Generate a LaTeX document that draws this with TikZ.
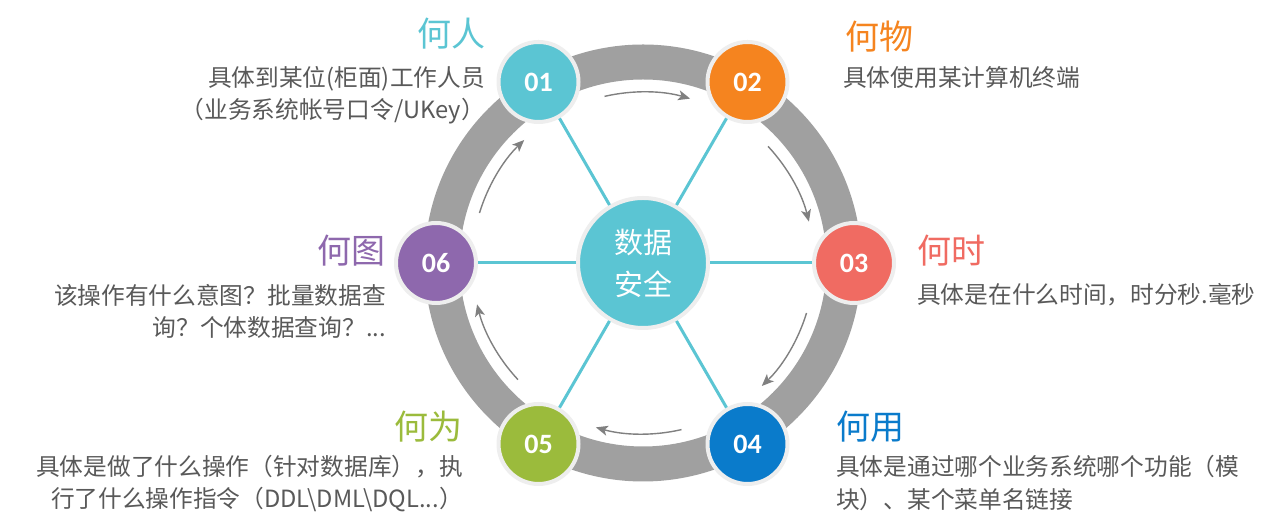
\documentclass[tikz,border=0pt]{standalone}
\usepackage{fontspec}
\setmainfont{Noto Sans CJK SC}
\newfontfamily\numfont{Carlito}
\usetikzlibrary{arrows.meta,positioning}
\definecolor{cteal}{RGB}{91,197,211}
\definecolor{corange}{RGB}{245,132,31}
\definecolor{csalmon}{RGB}{240,107,98}
\definecolor{cblue}{RGB}{10,123,203}
\definecolor{cgreen}{RGB}{155,187,60}
\definecolor{cpurple}{RGB}{142,104,173}
\definecolor{ringgray}{RGB}{160,160,160}
\definecolor{rimgray}{RGB}{238,238,238}
\definecolor{turngray}{RGB}{128,128,128}
\definecolor{descgray}{RGB}{89,89,89}

\begin{document}
\begin{tikzpicture}[
    x=1pt,y=1pt,
    ring/.style={draw=ringgray,line width=35pt},
    numball/.style={circle,draw=rimgray,line width=4pt,minimum size=80pt,inner sep=0pt,
                    text=white,font=\numfont\bfseries\fontsize{28}{28}\selectfont},
    hubball/.style={circle,draw=rimgray,line width=4pt,fill=cteal,minimum size=130pt,
                    inner sep=0pt,text=white,align=center,font=\fontsize{29}{42}\selectfont},
    spoke/.style={draw=cteal,line width=3pt},
    turn/.style={-{Stealth[length=12pt,width=10pt,inset=3pt]},draw=turngray,line width=1.4pt},
    title/.style={inner sep=0pt,font=\fontsize{34}{34}\selectfont},
    desc/.style={inner sep=0pt,text=descgray,font=\fontsize{23.7}{32}\selectfont}
  ]
    \fill[white] (0,0) rectangle (1280,526);
    \useasboundingbox (0,0) rectangle (1280,526);
    \coordinate (c) at (643,263);
    % grey ring and turning arrows
    \draw[ring] (c) circle[radius=201];
    \draw[turn] ([shift={(103:171)}]c) arc[start angle=103,end angle=74,radius=171];
    \draw[turn] ([shift={(43:171)}]c) arc[start angle=43,end angle=14,radius=171];
    \draw[turn] ([shift={(-17:171)}]c) arc[start angle=-17,end angle=-46,radius=171];
    \draw[turn] ([shift={(-77:171)}]c) arc[start angle=-77,end angle=-106,radius=171];
    \draw[turn] ([shift={(-137:171)}]c) arc[start angle=-137,end angle=-166,radius=171];
    \draw[turn] ([shift={(163:171)}]c) arc[start angle=163,end angle=134,radius=171];
    % hub and the six steps
    \node[hubball] (hub) at (c) {数据\\安全};
    \node[numball,fill=cteal] (n1) at ([shift={(120:209)}]c) {01};
    \node[numball,fill=corange] (n2) at ([shift={(60:209)}]c) {02};
    \node[numball,fill=csalmon] (n3) at ([shift={(0:211)}]c) {03};
    \node[numball,fill=cblue] (n4) at ([shift={(-60:209)}]c) {04};
    \node[numball,fill=cgreen] (n5) at ([shift={(-120:209)}]c) {05};
    \node[numball,fill=cpurple] (n6) at ([shift={(180:207)}]c) {06};
    \draw[spoke] (hub) -- (n1);
    \draw[spoke] (hub) -- (n2);
    \draw[spoke] (hub) -- (n3);
    \draw[spoke] (hub) -- (n4);
    \draw[spoke] (hub) -- (n5);
    \draw[spoke] (hub) -- (n6);
    % titles
    \node[title,text=cteal,anchor=east] (t1) at (486,492) {何人};
    \node[title,text=corange,anchor=west] (t2) at (845,489) {何物};
    \node[title,text=csalmon,anchor=west] (t3) at (917,275) {何时};
    \node[title,text=cblue,anchor=west] (t4) at (836,99) {何用};
    \node[title,text=cgreen,anchor=east] (t5) at (463,99) {何为};
    \node[title,text=cpurple,anchor=east] (t6) at (386,275) {何图};
    % descriptions
    \node[desc,align=right,anchor=east] (d1) at (485,431) {具体到某位(柜面)工作人员\\（业务系统帐号口令/UKey）};
    \node[desc,anchor=west] (d2) at (843,448) {具体使用某计算机终端};
    \node[desc,anchor=west] (d3) at (917,231) {具体是在什么时间，时分秒.毫秒};
    \node[desc,align=left,anchor=west] (d4) at (836,43) {具体是通过哪个业务系统哪个功能（模\\块）、某个菜单名链接};
    \node[desc,align=right,anchor=east] (d5) at (463,42) {具体是做了什么操作（针对数据库），执\\行了什么操作指令（DDL\textbackslash DML\textbackslash DQL...）};
    \node[desc,align=right,anchor=east] (d6) at (386,215) {该操作有什么意图？批量数据查\\询？个体数据查询？...};
  \end{tikzpicture}
\end{document}
